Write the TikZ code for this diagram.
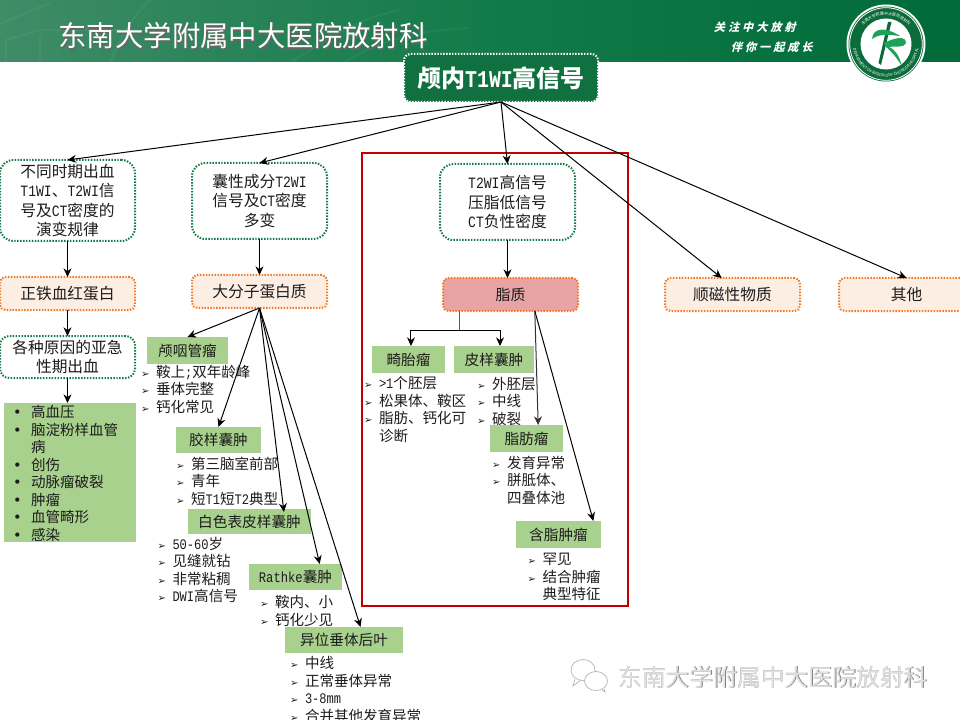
\documentclass[tikz,border=0pt]{standalone}
\usepackage{fontspec}
\setmainfont{Noto Sans CJK SC}
\newfontfamily\latf[FakeStretch=0.83]{Liberation Mono}
\newfontfamily\symf{DejaVu Sans}
\newfontfamily\slogf[LetterSpace=26]{Noto Sans CJK SC}
\usetikzlibrary{arrows.meta,calc,decorations.text}
\definecolor{hdL}{HTML}{3F8C67}
\definecolor{hdM}{HTML}{137B49}
\definecolor{hdR}{HTML}{006A39}
\definecolor{hdgreen}{HTML}{10703F}
\definecolor{dotgreen}{HTML}{137B47}
\definecolor{dotorange}{HTML}{F07A28}
\definecolor{fillorange}{HTML}{FDEEE3}
\definecolor{labgreen}{HTML}{A9D18E}
\definecolor{fatpink}{HTML}{E8A4A4}
\definecolor{redframe}{HTML}{C00000}
\definecolor{inktext}{HTML}{1C1C1C}
\definecolor{logodark}{HTML}{0B6B3A}
\definecolor{logobright}{HTML}{1EA257}
\newcommand{\lat}[1]{{\latf #1}}
\newcommand{\bul}{\makebox[11.25pt][l]{\symf\fontsize{7.5}{7.5}\selectfont ➢}}
\newcommand{\cont}{\hspace*{11.25pt}}
\newcommand{\dotb}{\makebox[13.5pt][l]{\symf •}}
\newcommand{\bx}[7]{\node[#1,minimum width={(#5-#3)*0.75pt},minimum height={(#6-#4)*0.75pt}] (#2) at ({(#3+#5)/2},{(#4+#6)/2}) {#7};}
\tikzset{
  px/.style={x=0.75pt,y=-0.75pt},
  boxbase/.style={rectangle,inner sep=0pt,outer sep=0pt,align=center,text=inktext},
  txtbig/.style={font=\fontsize{11.8}{14.4}\selectfont},
  dotline/.style={line width=1.5pt,dash pattern=on 1.1pt off 1.1pt},
  whitebox/.style={boxbase,txtbig,draw=dotgreen,dotline,fill=white,rounded corners=10pt},
  orangebox/.style={boxbase,txtbig,draw=dotorange,dotline,fill=fillorange,rounded corners=4pt},
  fatbox/.style={boxbase,font=\fontsize{11.2}{14}\selectfont,draw=dotorange,dotline,fill=fatpink,rounded corners=4pt},
  lab/.style={boxbase,font=\fontsize{11}{14}\selectfont,fill=labgreen},
  items/.style={inner sep=0pt,outer sep=0pt,anchor=west,align=left,text=inktext,font=\fontsize{10.9}{13.15}\selectfont},
  conn/.style={-{Stealth[length=6.5pt,width=6pt]},line width=0.75pt,black},
  plain/.style={line width=0.75pt,black},
  hdtext/.style={inner sep=0pt,outer sep=0pt,font=\fontsize{21.3}{24}\selectfont},
  wmtext/.style={inner sep=0pt,outer sep=0pt,font=\fontsize{17.85}{20}\selectfont},
  slogan/.style={inner sep=0pt,outer sep=0pt,anchor=west,text=white,xslant=0.25,transform shape,font=\fontsize{8.4}{10}\slogf\bfseries},
}
\begin{document}
\begin{tikzpicture}[px]
\useasboundingbox (0,0) rectangle (960,720);
\clip (0,0) rectangle (960,720);
% header band
\fill[left color=hdL,right color=hdR,middle color=hdM] (0,0) rectangle (960,62);
\draw[white,opacity=0.05,line width=1.5pt] (0,24) -- (50,3) (6,62) -- (6,40) -- (40,30) -- (120,30) (40,62) -- (40,36) (110,62) .. controls (125,30) and (130,20) .. (150,0)
  (290,62) .. controls (330,40) and (350,20) .. (400,10) (345,62) .. controls (380,40) and (420,30) .. (470,28);
% header text
\node[hdtext,text=black!60] (hdshadow) at (244,37.2) {东南大学附属中大医院放射科};
\node[hdtext,text=white] (hdtitle) at (243,36) {东南大学附属中大医院放射科};
\node[slogan] (slog1) at (715,27) {关注中大放射};
\node[slogan] (slog2) at (732,47) {伴你一起成长};
% logo
\begin{scope}[shift={(886,44)},x=0.75pt,y=0.75pt]
  \fill[white] (0,0) circle (39.5);
  \fill[logodark] (0,0) circle (37.5);
  \draw[white,line width=0.6pt] (0,0) circle (36.3);
  \fill[white] (0,0) circle (25.5);
  \path[decorate,decoration={text along path,text align=center,text={|\fontsize{3}{4}\selectfont\color{white}|DEPARTMENT OF RADIOLOGY ZHONGDA HOSPITAL}}]
     (-33,2.9) arc[start angle=175,end angle=365,radius=33];
  \path[decorate,decoration={text along path,text align=center,text={|\fontsize{3}{4}\selectfont\color{white}|东南大学附属中大医院放射科}}]
     (-25.6,13.6) arc[start angle=152,end angle=28,radius=29];
  \fill[logodark] (2,22) -- (5.5,22) -- (-5,-21) -- (-7.5,-19) -- cycle;
  \fill[logobright] (-14,5) .. controls (-13,17) and (0,17) .. (14,8)
     .. controls (4,9) and (-6,11) .. (-14,5) -- cycle;
  \fill[logobright] (-2,1) .. controls (8,6) and (20,9) .. (20,1)
     .. controls (19,-4) and (8,-2) .. (3,-3)
     .. controls (10,-6) and (13,-12) .. (16,-22)
     .. controls (10,-13) and (6,-8) .. (-1,-2) -- cycle;
\end{scope}
% red frame
\draw[redframe,line width=1.5pt] (362,153) rectangle (628,606);
% top
\bx{boxbase,text=white,font=\fontsize{18}{22}\selectfont\bfseries,fill=hdgreen,draw=white,dotline,rounded corners=5pt}{top}{404}{54}{598}{102}{颅内\lat{T1WI}高信号}
% first level
\bx{whitebox}{a}{0}{160}{135}{241}{不同时期出血\\\lat{T1WI}、\lat{T2WI}信\\号及\lat{CT}密度的\\演变规律}
\bx{whitebox}{b}{192}{163}{327}{239}{囊性成分\lat{T2WI}\\信号及\lat{CT}密度\\多变}
\bx{whitebox}{c}{440}{164}{575}{240}{\lat{T2WI}高信号\\压脂低信号\\\lat{CT}负性密度}
\bx{orangebox}{atwo}{0}{277}{135}{310}{正铁血红蛋白}
\bx{orangebox}{btwo}{192}{275}{327}{308}{大分子蛋白质}
\bx{fatbox}{fat}{443}{278}{578}{311}{脂质}
\bx{orangebox}{para}{665}{278}{800}{311}{顺磁性物质}
\bx{orangebox}{other}{839}{278}{974}{311}{其他}
\bx{whitebox,rounded corners=7pt}{athree}{0}{336}{135}{378}{各种原因的亚急\\性期出血}
\bx{lab}{afour}{4}{403}{136}{542}{}
\node[items] (afourt) at (13,473.5) {\dotb 高血压\\\dotb 脑淀粉样血管\\\hspace*{13.5pt}病\\\dotb 创伤\\\dotb 动脉瘤破裂\\\dotb 肿瘤\\\dotb 血管畸形\\\dotb 感染};
% protein labels
\bx{lab}{cranio}{147}{337}{228}{364}{颅咽管瘤}
\node[items] (craniol) at (141,389) {\bul 鞍上\lat{;}双年龄峰\\\bul 垂体完整\\\bul 钙化常见};
\bx{lab}{colloid}{176}{427}{261}{453}{胶样囊肿}
\node[items] (colloidl) at (176,481) {\bul 第三脑室前部\\\bul 青年\\\bul 短\lat{T1}短\lat{T2}典型};
\bx{lab}{epi}{188}{509}{311}{534}{白色表皮样囊肿}
\node[items] (epil) at (157.5,570) {\bul \lat{50-60}岁\\\bul 见缝就钻\\\bul 非常粘稠\\\bul \lat{DWI}高信号};
\bx{lab}{rathke}{249}{564}{342}{590}{\lat{Rathke}囊肿}
\node[items] (rathkel) at (260,611) {\bul 鞍内、小\\\bul 钙化少见};
\bx{lab}{ecto}{285}{627}{403}{653}{异位垂体后叶}
\node[items] (ectol) at (290,689.5) {\bul 中线\\\bul 正常垂体异常\\\bul \lat{3-8mm}\\\bul 合并其他发育异常};
% lipid labels
\bx{lab}{terat}{372}{346}{445}{373}{畸胎瘤}
\node[items] (teratl) at (364,409.5) {\bul \lat{>1}个胚层\\\bul 松果体、鞍区\\\bul 脂肪、钙化可\\\cont 诊断};
\bx{lab}{derm}{454}{346}{534}{373}{皮样囊肿}
\node[items] (derml) at (477,401) {\bul 外胚层\\\bul 中线\\\bul 破裂};
\bx{lab}{lipoma}{490}{425}{563}{452}{脂肪瘤}
\node[items] (lipomal) at (492,480) {\bul 发育异常\\\bul 胼胝体、\\\cont 四叠体池};
\bx{lab}{fattum}{516}{521}{601}{548}{含脂肿瘤}
\node[items] (fattuml) at (527.5,577) {\bul 罕见\\\bul 结合肿瘤\\\cont 典型特征};
% connectors
\draw[conn] (top.south) -- (a.north);
\draw[conn] (top.south) -- (b.north);
\draw[conn] (top.south) -- (c.north);
\draw[conn] (top.south) -- ($(para.north west)!0.42!(para.north east)$);
\draw[conn] (top.south) -- (other.north);
\draw[conn] (a.south) -- (atwo.north);
\draw[conn] (atwo.south) -- (athree.north);
\draw[conn] (athree.south) -- (athree.south |- afour.north);
\draw[conn] (b.south) -- (btwo.north);
\draw[conn] (btwo.south) -- (cranio.north);
\draw[conn] (btwo.south) -- (colloid.north);
\draw[conn] (btwo.south) -- ($(epi.north west)!0.78!(epi.north east)+(0,3)$);
\draw[conn] (btwo.south) -- ($(rathke.north west)!0.76!(rathke.north east)$);
\draw[conn] (btwo.south) -- ($(ecto.north west)!0.64!(ecto.north east)$);
\draw[conn] (c.south) -- (c.south |- fat.north);
\coordinate (fork) at ($(fat.south west)!0.12!(fat.south east)+(0,19)$);
\coordinate (tin) at ($(terat.north west)!0.534!(terat.north east)$);
\coordinate (din) at ($(derm.north west)!0.575!(derm.north east)$);
\draw[plain,black!65] ($(fat.south west)!0.12!(fat.south east)$) -- (fork);
\draw[plain] (tin |- fork) -- (din |- fork);
\draw[conn] (tin |- fork) -- (tin);
\draw[conn] (din |- fork) -- (din);
\draw[conn,black!80] ($(fat.south west)!0.68!(fat.south east)$) -- ($(lipoma.north west)!0.66!(lipoma.north east)$);
\draw[conn] ($(fat.south west)!0.68!(fat.south east)$) -- ($(fattum.north west)!0.91!(fattum.north east)$);
% watermark
\begin{scope}[gray!60,line width=0.5pt,fill=white]
  \draw (583,670) ellipse (12 and 10.5);
  \draw (575,679) -- (573,686) -- (581,680);
  \draw[fill=white] (596,681) ellipse (11.5 and 9.5);
  \draw (602,690) -- (605,692) -- (604,689);
  \fill (578,666) circle (0.8) (587,666) circle (0.8) (592,677) circle (0.8) (600,677) circle (0.8);
\end{scope}
\node[wmtext,text=black!50] (wmshadow) at (773.5,677.5) {东南大学附属中大医院放射科};
\node[wmtext,text=black!12] (wmtitle) at (773,677) {东南大学附属中大医院放射科};
\end{tikzpicture}
\end{document}
